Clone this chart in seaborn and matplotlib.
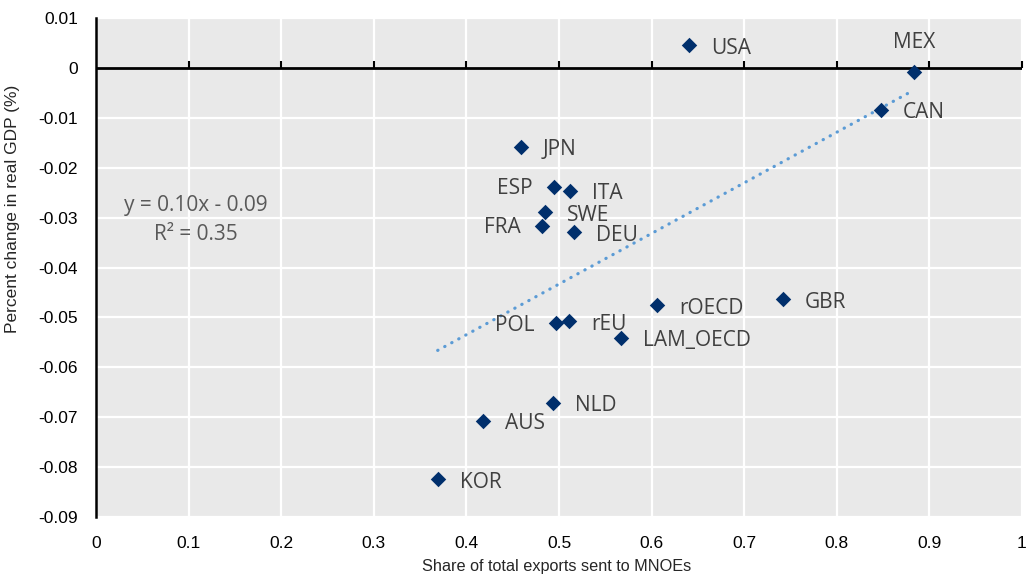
import numpy as np
import pandas as pd
import matplotlib.pyplot as plt
import seaborn as sns
from matplotlib.ticker import FuncFormatter, MultipleLocator

# values
countries = ["USA", "MEX", "CAN", "JPN", "ESP", "ITA", "SWE", "FRA", "DEU",
             "rOECD", "GBR", "POL", "rEU", "LAM_OECD", "NLD", "AUS", "KOR"]
mnoe_share = [0.640, 0.883, 0.848, 0.459, 0.495, 0.512, 0.485, 0.482, 0.516,
              0.606, 0.742, 0.497, 0.511, 0.567, 0.494, 0.418, 0.369]
gdp_change = [0.0045, -0.0008, -0.0084, -0.0158, -0.0238, -0.0246, -0.0289, -0.0316, -0.0329,
              -0.0476, -0.0464, -0.0512, -0.0508, -0.0541, -0.0671, -0.0707, -0.0824]
equation_text = "y = 0.10x - 0.09"
r2_text = "R² = 0.35"

df = pd.DataFrame({"country": countries, "share": mnoe_share, "gdp": gdp_change})

# where each label sits relative to its marker
left_labels = ["ESP", "FRA", "POL"]
above_labels = ["MEX"]

sns.set_style("whitegrid", {
    "axes.facecolor": "#e9e9e9",
    "grid.color": "white",
    "axes.edgecolor": "black",
})
narrow = ["Liberation Sans Narrow", "Liberation Sans", "DejaVu Sans"]
label_font = ["Open Sans", "DejaVu Sans"]

fig = plt.figure(figsize=(10.27, 5.76), dpi=100)
ax = fig.add_axes([96 / 1027, 1 - 517 / 576, 926 / 1027, 499 / 576])

ax.set_xlim(0, 1)
ax.set_ylim(-0.09, 0.01)
ax.xaxis.set_major_locator(MultipleLocator(0.1))
ax.yaxis.set_major_locator(MultipleLocator(0.01))

# zero line with small upward ticks at the x tick positions
ax.axhline(0, color="black", lw=2, zorder=1.5)
xt = [t for t in ax.get_xticks() if 0 < t <= 1.0001]
ax.plot(xt, np.zeros(len(xt)), linestyle="none", marker=2, markersize=5,
        mew=1.5, color="black", zorder=1.6, clip_on=False)

sns.regplot(data=df, x="share", y="gdp", scatter=False, ci=None, truncate=True, ax=ax,
            line_kws=dict(color="#5b9bd5", lw=2.3, linestyle=(0, (0.1, 2.4)),
                          dash_capstyle="round", zorder=2))
sns.scatterplot(data=df, x="share", y="gdp", marker="D", s=62, color="#002f6c",
                linewidth=0, ax=ax, zorder=3)

for _, r in df.iterrows():
    if r["country"] in left_labels:
        off, ha = (-22, -2), "right"
    elif r["country"] in above_labels:
        off, ha = (0, 29), "center"
    else:
        off, ha = (22, -3), "left"
    ax.annotate(r["country"], xy=(r["share"], r["gdp"]), xytext=off,
                textcoords="offset pixels", ha=ha, va="center",
                fontsize=15, color="#404040", family=label_font)

ax.text(196 / 1027, 1 - 205 / 576, equation_text, transform=fig.transFigure,
        ha="center", va="center", fontsize=15, color="#595959", family=label_font)
ax.text(196 / 1027, 1 - 234 / 576, r2_text, transform=fig.transFigure,
        ha="center", va="center", fontsize=15, color="#595959", family=label_font)

ax.xaxis.set_major_formatter(FuncFormatter(lambda v, p: f"{round(v, 2):g}"))
ax.yaxis.set_major_formatter(FuncFormatter(lambda v, p: f"{round(v, 3) + 0:g}"))
ax.grid(True, color="white", lw=1.6)

for s in ["top", "right", "bottom"]:
    ax.spines[s].set_visible(False)
ax.spines["left"].set_linewidth(1.8)
ax.spines["left"].set_color("black")
ax.spines["left"].set_zorder(4)

ax.tick_params(axis="y", direction="in", length=5, width=1.5, color="black",
               pad=13, labelsize=12.5)
ax.tick_params(axis="x", length=0, pad=14, labelsize=12.5)
for t in ax.get_xticklabels() + ax.get_yticklabels():
    t.set_family(narrow)
    t.set_color("black")

ax.set_xlabel("Share of total exports sent to MNOEs", fontsize=11.7, family=narrow)
ax.set_ylabel("Percent change in real GDP (%)", fontsize=12.5, family=narrow)
ax.xaxis.set_label_coords(0.497, -0.085)
ax.yaxis.set_label_coords(-0.082, 0.617)

fig.savefig("out.png", dpi=100)
